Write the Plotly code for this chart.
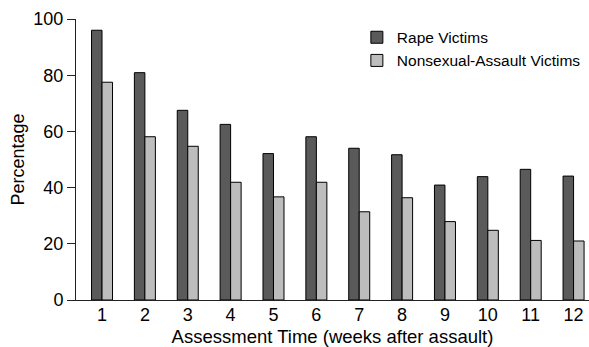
import plotly.graph_objects as go

weeks = [1, 2, 3, 4, 5, 6, 7, 8, 9, 10, 11, 12]
tick_labels = [str(w) for w in weeks]
rape_victims = [96.0, 80.9, 67.5, 62.5, 52.1, 58.1, 54.0, 51.7, 40.9, 43.9, 46.5, 44.1]
nonsexual_victims = [77.5, 58.1, 54.7, 41.9, 36.7, 41.9, 31.4, 36.4, 27.9, 24.8, 21.2, 21.0]
y_ticks = [0, 20, 40, 60, 80, 100]

FONT = "Arial, 'Liberation Sans', sans-serif"

fig = go.Figure()
fig.add_trace(go.Bar(
    x=weeks, y=rape_victims, name="Rape Victims",
    marker=dict(color="#5a5a5a", line=dict(color="black", width=1)),
))
fig.add_trace(go.Bar(
    x=weeks, y=nonsexual_victims, name="Nonsexual-Assault Victims",
    marker=dict(color="#bdbdbd", line=dict(color="black", width=1)),
))

fig.update_layout(
    width=589, height=347,
    margin=dict(l=76, r=0, t=19, b=47, autoexpand=False),
    paper_bgcolor="white", plot_bgcolor="white",
    barmode="group", bargap=0.51, bargroupgap=0,
    font=dict(family=FONT, size=18, color="black"),
    showlegend=True,
    legend=dict(
        x=0.5475, y=0.994, xanchor="left", yanchor="top",
        font=dict(size=15.5, family=FONT),
        bgcolor="rgba(0,0,0,0)", tracegroupgap=0,
    ),
    xaxis=dict(
        range=[0.393, 12.36], tickmode="array", tickvals=weeks, ticktext=tick_labels,
        showgrid=False, zeroline=False, showline=True, linecolor="#222", linewidth=1,
        ticks="", tickfont=dict(size=18), automargin=False, ticklabelstandoff=-2,
        title=dict(text="Assessment Time (weeks after assault)", font=dict(size=18.5), standoff=9),
    ),
    yaxis=dict(
        range=[0, 100], tickmode="array", tickvals=y_ticks,
        showgrid=False, zeroline=False, showline=True, linecolor="#222", linewidth=1,
        ticks="outside", ticklen=8, tickcolor="#222", tickfont=dict(size=18), automargin=False,
        title=dict(text="Percentage", font=dict(size=18), standoff=4),
    ),
)

fig.write_html(
    "out.html",
    config={"displayModeBar": False},
    post_script="document.body.style.margin='0';document.body.style.padding='0';",
)
